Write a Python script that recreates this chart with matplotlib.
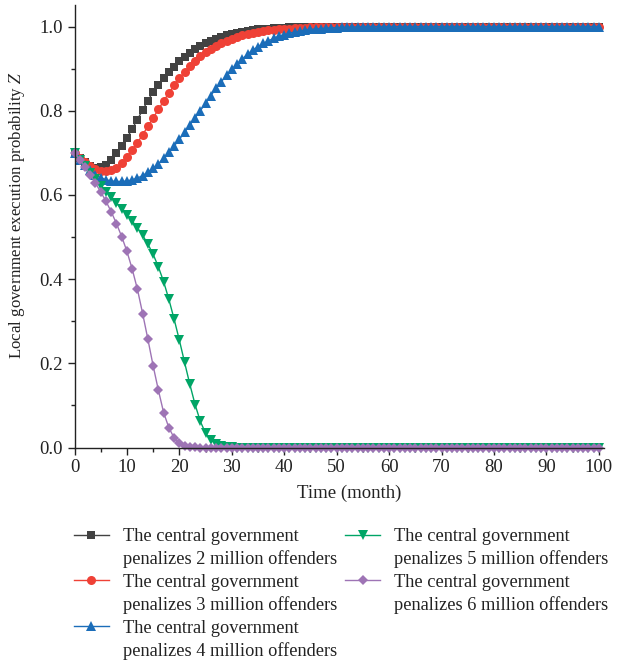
import numpy as np
import matplotlib
matplotlib.use("Agg")
import matplotlib.pyplot as plt
from matplotlib.lines import Line2D
from matplotlib.ticker import MultipleLocator, FormatStrFormatter

plt.rcParams['font.family'] = ['Liberation Serif', 'DejaVu Serif']
plt.rcParams['mathtext.fontset'] = 'stix'

months = np.arange(0, 101)

# probability Z for each penalty level, one value per month (0..100)
z_2m = [0.700, 0.688, 0.677, 0.669, 0.665, 0.666, 0.672, 0.684, 0.699, 0.716,
        0.735, 0.757, 0.779, 0.802, 0.824, 0.845, 0.862, 0.878, 0.892, 0.905,
        0.917, 0.928, 0.938, 0.946, 0.954, 0.960, 0.966, 0.971, 0.975, 0.979,
        0.982, 0.985, 0.988, 0.990, 0.992, 0.993, 0.994, 0.995, 0.996, 0.997,
        0.997, 0.998, 0.998, 0.999, 0.999, 1.000, 1.000, 1.000, 1.000, 1.000,
        1.000, 1.000, 1.000, 1.000, 1.000, 1.000, 1.000, 1.000, 1.000, 1.000,
        1.000, 1.000, 1.000, 1.000, 1.000, 1.000, 1.000, 1.000, 1.000, 1.000,
        1.000, 1.000, 1.000, 1.000, 1.000, 1.000, 1.000, 1.000, 1.000, 1.000,
        1.000, 1.000, 1.000, 1.000, 1.000, 1.000, 1.000, 1.000, 1.000, 1.000,
        1.000, 1.000, 1.000, 1.000, 1.000, 1.000, 1.000, 1.000, 1.000, 1.000,
        1.000]

z_3m = [0.700, 0.688, 0.677, 0.668, 0.661, 0.657, 0.656, 0.659, 0.665, 0.676,
        0.690, 0.706, 0.724, 0.743, 0.763, 0.783, 0.803, 0.823, 0.842, 0.860,
        0.877, 0.892, 0.906, 0.918, 0.929, 0.939, 0.947, 0.954, 0.961, 0.966,
        0.971, 0.975, 0.979, 0.982, 0.985, 0.987, 0.989, 0.991, 0.992, 0.993,
        0.994, 0.995, 0.996, 0.997, 0.997, 0.998, 0.998, 0.999, 0.999, 0.999,
        1.000, 1.000, 1.000, 1.000, 1.000, 1.000, 1.000, 1.000, 1.000, 1.000,
        1.000, 1.000, 1.000, 1.000, 1.000, 1.000, 1.000, 1.000, 1.000, 1.000,
        1.000, 1.000, 1.000, 1.000, 1.000, 1.000, 1.000, 1.000, 1.000, 1.000,
        1.000, 1.000, 1.000, 1.000, 1.000, 1.000, 1.000, 1.000, 1.000, 1.000,
        1.000, 1.000, 1.000, 1.000, 1.000, 1.000, 1.000, 1.000, 1.000, 1.000,
        1.000]

z_4m = [0.700, 0.684, 0.670, 0.658, 0.648, 0.641, 0.636, 0.633, 0.632, 0.632,
        0.633, 0.636, 0.640, 0.646, 0.654, 0.663, 0.674, 0.687, 0.701, 0.716,
        0.732, 0.749, 0.766, 0.783, 0.800, 0.818, 0.836, 0.853, 0.869, 0.884,
        0.898, 0.911, 0.923, 0.934, 0.944, 0.952, 0.960, 0.966, 0.972, 0.977,
        0.981, 0.984, 0.987, 0.989, 0.991, 0.993, 0.994, 0.995, 0.996, 0.997,
        0.997, 0.998, 0.998, 0.999, 0.999, 1.000, 1.000, 1.000, 1.000, 1.000,
        1.000, 1.000, 1.000, 1.000, 1.000, 1.000, 1.000, 1.000, 1.000, 1.000,
        1.000, 1.000, 1.000, 1.000, 1.000, 1.000, 1.000, 1.000, 1.000, 1.000,
        1.000, 1.000, 1.000, 1.000, 1.000, 1.000, 1.000, 1.000, 1.000, 1.000,
        1.000, 1.000, 1.000, 1.000, 1.000, 1.000, 1.000, 1.000, 1.000, 1.000,
        1.000]

z_5m = [0.700, 0.684, 0.668, 0.652, 0.637, 0.622, 0.608, 0.594, 0.580, 0.567,
        0.553, 0.538, 0.522, 0.504, 0.483, 0.459, 0.429, 0.394, 0.352, 0.305,
        0.255, 0.202, 0.150, 0.102, 0.062, 0.034, 0.018, 0.009, 0.004, 0.002,
        0.001, 0.000, 0.000, 0.000, 0.000, 0.000, 0.000, 0.000, 0.000, 0.000,
        0.000, 0.000, 0.000, 0.000, 0.000, 0.000, 0.000, 0.000, 0.000, 0.000,
        0.000, 0.000, 0.000, 0.000, 0.000, 0.000, 0.000, 0.000, 0.000, 0.000,
        0.000, 0.000, 0.000, 0.000, 0.000, 0.000, 0.000, 0.000, 0.000, 0.000,
        0.000, 0.000, 0.000, 0.000, 0.000, 0.000, 0.000, 0.000, 0.000, 0.000,
        0.000, 0.000, 0.000, 0.000, 0.000, 0.000, 0.000, 0.000, 0.000, 0.000,
        0.000, 0.000, 0.000, 0.000, 0.000, 0.000, 0.000, 0.000, 0.000, 0.000,
        0.000]

z_6m = [0.700, 0.684, 0.667, 0.648, 0.628, 0.607, 0.585, 0.560, 0.532, 0.501,
        0.466, 0.424, 0.376, 0.318, 0.257, 0.194, 0.136, 0.083, 0.047, 0.023,
        0.010, 0.004, 0.002, 0.001, 0.000, 0.000, 0.000, 0.000, 0.000, 0.000,
        0.000, 0.000, 0.000, 0.000, 0.000, 0.000, 0.000, 0.000, 0.000, 0.000,
        0.000, 0.000, 0.000, 0.000, 0.000, 0.000, 0.000, 0.000, 0.000, 0.000,
        0.000, 0.000, 0.000, 0.000, 0.000, 0.000, 0.000, 0.000, 0.000, 0.000,
        0.000, 0.000, 0.000, 0.000, 0.000, 0.000, 0.000, 0.000, 0.000, 0.000,
        0.000, 0.000, 0.000, 0.000, 0.000, 0.000, 0.000, 0.000, 0.000, 0.000,
        0.000, 0.000, 0.000, 0.000, 0.000, 0.000, 0.000, 0.000, 0.000, 0.000,
        0.000, 0.000, 0.000, 0.000, 0.000, 0.000, 0.000, 0.000, 0.000, 0.000,
        0.000]

penalties = ["2", "3", "4", "5", "6"]
series = [z_2m, z_3m, z_4m, z_5m, z_6m]
colors = ["#424242", "#EF4136", "#1B6DB9", "#00A566", "#9E74B5"]
markers = ["s", "o", "^", "v", "D"]
msizes = [6.2, 6.5, 7.2, 7.2, 5.4]

fig = plt.figure(figsize=(6.24, 6.63), dpi=100)
ax = fig.add_axes([0.1194, 0.325, 0.8486, 0.6674])

handles = []
for y, c, m, ms in zip(series, colors, markers, msizes):
    ax.plot(months, y, color=c, lw=1.0, marker=m, ms=ms,
            mec=c, mfc=c, mew=0, clip_on=False)
    handles.append(Line2D([], [], color=c, lw=1.0, marker=m, ms=ms, mec=c, mfc=c, mew=0))

ax.set_xlim(0, 101)
ax.set_ylim(0, 1.051)
ax.xaxis.set_major_locator(MultipleLocator(10))
ax.xaxis.set_minor_locator(MultipleLocator(5))
ax.yaxis.set_major_locator(MultipleLocator(0.2))
ax.yaxis.set_minor_locator(MultipleLocator(0.1))
ax.yaxis.set_major_formatter(FormatStrFormatter('%.1f'))
ax.tick_params(which='both', direction='out', width=1.0, labelsize=13.5, colors='#222222')
ax.tick_params(which='major', length=5)
ax.tick_params(which='minor', length=3)
for s in ['top', 'right']:
    ax.spines[s].set_visible(False)
for s in ['left', 'bottom']:
    ax.spines[s].set_linewidth(1.0)
    ax.spines[s].set_color('#222222')

ax.set_xlabel("Time (month)", fontsize=13.5, color='#222222')
ax.xaxis.set_label_coords(0.518, -0.083)
ax.set_ylabel("Local government execution probability $Z$", fontsize=12.2, color='#222222')
ax.yaxis.label.set_va('center')
ax.yaxis.set_label_coords(-0.108, 0.525)

# two-line legend entries: marker sits on the first line, blank handle for the second
blank = Line2D([], [], linestyle='none')
leg_handles = []
leg_labels = []
for h, p in zip(handles, penalties):
    leg_handles += [h, blank]
    leg_labels += ["The central government", f"penalizes {p} million offenders"]
leg_handles += [blank, blank]
leg_labels += ["", ""]

fig.legend(leg_handles, leg_labels, ncol=2, loc='upper left',
           bbox_to_anchor=(74 / 624, 1 - 528 / 663), bbox_transform=fig.transFigure,
           frameon=False, fontsize=13.2, borderpad=0, borderaxespad=0,
           handlelength=1.9, handletextpad=0.75, columnspacing=0.45,
           labelspacing=0.3, numpoints=1, labelcolor='#222222')

fig.savefig("out.png", dpi=100)
